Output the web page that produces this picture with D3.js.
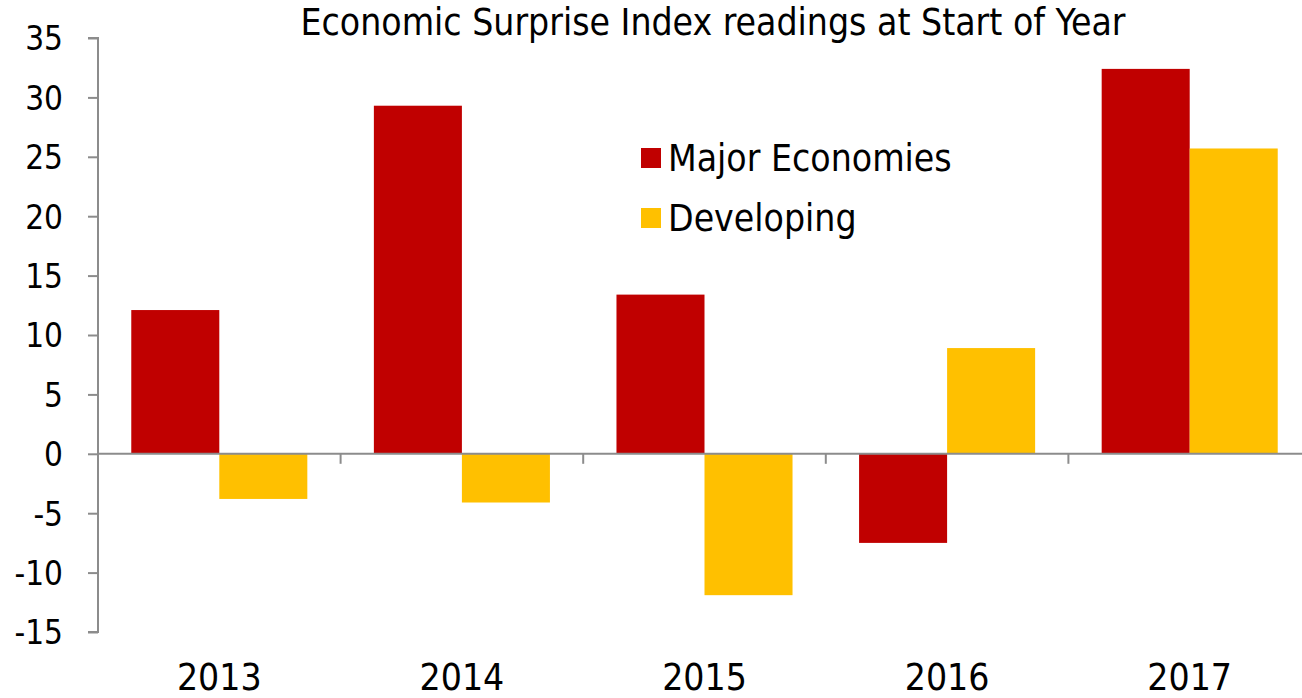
<!DOCTYPE html>
<html>
<head>
<meta charset="utf-8">
<script src="https://cdn.jsdelivr.net/npm/d3@7"></script>
<style>
  body { margin: 0; background: #fff; }
  svg text { font-family: "DejaVu Sans Condensed", "DejaVu Sans", sans-serif; fill: #000; }
</style>
</head>
<body>
<svg id="chart" width="1302" height="698"></svg>
<script>
const years = ["2013", "2014", "2015", "2016", "2017"];
const seriesNames = ["Major Economies", "Developing"];
const majorValues = [12.1, 29.3, 13.4, -7.5, 32.4];
const developingValues = [-3.8, -4.1, -11.9, 8.9, 25.7];
const yTicks = [-15, -10, -5, 0, 5, 10, 15, 20, 25, 30, 35];
const colors = ["#c00000", "#ffc000"];

const svg = d3.select("#chart");
const plotLeft = 98, plotRight = 1311, plotTop = 38, plotBottom = 632;

const rows = years.map((yr, i) => ({ year: yr, values: [majorValues[i], developingValues[i]] }));

const x0 = d3.scaleBand().domain(years).range([plotLeft, plotRight]).padding(0);
const x1 = d3.scaleBand().domain([0, 1]).range([0, x0.bandwidth()]).paddingInner(0).paddingOuter(0.378);
const y = d3.scaleLinear().domain([-15, 35]).range([plotBottom, plotTop]);

// bars
const groups = svg.append("g").selectAll("g")
  .data(rows)
  .join("g")
  .attr("transform", d => "translate(" + x0(d.year) + ",0)");

groups.selectAll("rect")
  .data(d => d.values.map((v, k) => ({ k: k, v: v })))
  .join("rect")
    .attr("x", d => x1(d.k))
    .attr("width", x1.bandwidth())
    .attr("y", d => y(Math.max(0, d.v)))
    .attr("height", d => Math.abs(y(d.v) - y(0)))
    .attr("fill", d => colors[d.k]);

// y axis (plain hyphen for negatives, like the original)
const yAxis = svg.append("g")
  .attr("transform", "translate(" + plotLeft + ",0)")
  .call(d3.axisLeft(y).tickValues(yTicks).tickSize(10).tickPadding(25).tickFormat(d => String(d)));
yAxis.selectAll("path, line").attr("stroke", "#8c8c8c").attr("stroke-width", 2);
yAxis.select(".domain").attr("d", "M-10," + y(35) + "H0V" + y(-15) + "H-10");
yAxis.selectAll("text").style("font-size", "33px").attr("dy", "0.36em");

// zero line with category separators
const zero = svg.append("g");
zero.append("line")
  .attr("x1", plotLeft).attr("x2", 1302)
  .attr("y1", y(0)).attr("y2", y(0))
  .attr("stroke", "#8c8c8c").attr("stroke-width", 2);
zero.selectAll("line.sep")
  .data(years.slice(1))
  .join("line")
  .attr("class", "sep")
  .attr("x1", d => x0(d)).attr("x2", d => x0(d))
  .attr("y1", y(0)).attr("y2", y(0) + 10)
  .attr("stroke", "#8c8c8c").attr("stroke-width", 2);

// category labels
svg.append("g").selectAll("text")
  .data(years)
  .join("text")
  .attr("x", d => x0(d) + x0.bandwidth() / 2)
  .attr("y", 690)
  .attr("text-anchor", "middle")
  .style("font-size", "37px")
  .text(d => d);

// title
svg.append("text")
  .attr("x", 713)
  .attr("y", 35)
  .attr("text-anchor", "middle")
  .style("font-size", "37px")
  .text("Economic Surprise Index readings at Start of Year");

// legend
const legend = svg.append("g").selectAll("g")
  .data(seriesNames)
  .join("g")
  .attr("transform", (d, i) => "translate(641," + (148 + i * 60) + ")");
legend.append("rect")
  .attr("width", 20).attr("height", 20)
  .attr("fill", (d, i) => colors[i]);
legend.append("text")
  .attr("x", 27).attr("y", 10).attr("dy", "0.36em")
  .style("font-size", "37px")
  .text(d => d);
</script>
</body>
</html>
